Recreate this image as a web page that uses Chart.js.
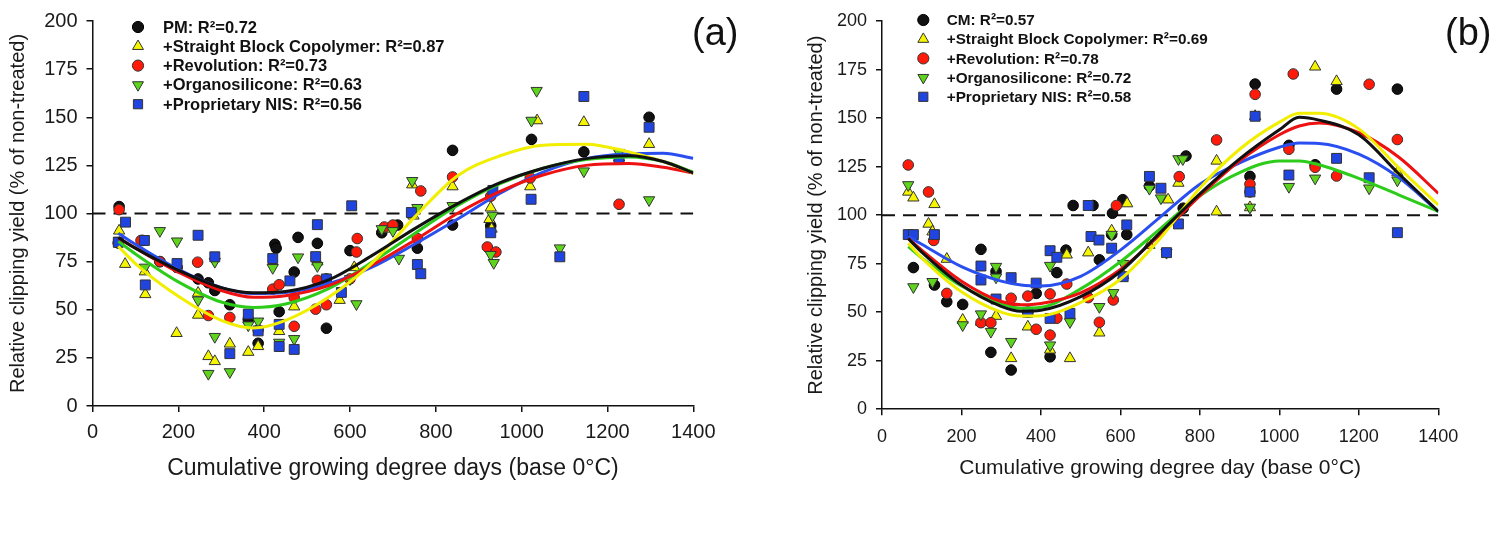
<!DOCTYPE html>
<html><head><meta charset="utf-8">
<script src="https://cdn.jsdelivr.net/npm/chart.js"></script>
<style>
html,body{margin:0;padding:0;background:#fff;}
#wrap{position:relative;width:1507px;height:533px;overflow:hidden;background:#fff;}
canvas{position:absolute;top:0;}
#ca{left:0;} #cb{left:760px;}
.panel{position:absolute;font-family:"Liberation Sans",Arial,sans-serif;font-size:38px;line-height:38px;color:#111;}
</style></head><body>
<div id="wrap">
<canvas id="ca" width="760" height="533"></canvas>
<canvas id="cb" width="747" height="533"></canvas>
<div class="panel" style="left:692px;top:13px">(a)</div>
<div class="panel" style="left:1445px;top:13px">(b)</div>
</div>
<script>
// ---------- tick labels ----------
const xTicks = [0, 200, 400, 600, 800, 1000, 1200, 1400];
const yTicks = [0, 25, 50, 75, 100, 125, 150, 175, 200];
const refY = 100;

// ---------- legend labels ----------
const aLabels = ['PM: R\u00B2=0.72', '+Straight Block Copolymer: R\u00B2=0.87', '+Revolution: R\u00B2=0.73', '+Organosilicone: R\u00B2=0.63', '+Proprietary NIS: R\u00B2=0.56'];
const bLabels = ['CM: R\u00B2=0.57', '+Straight Block Copolymer: R\u00B2=0.69', '+Revolution: R\u00B2=0.78', '+Organosilicone: R\u00B2=0.72', '+Proprietary NIS: R\u00B2=0.58'];

// ---------- panel (a) observations [GDD, % of non-treated] ----------
const aPM = [[62,103.6],[60,84.7],[117,86],[157,75],[197,72],[246,66],[270,64],[285,60],[320,52.6],[363,45],[386,32.6],[425,84],[428,82],[435,49],[470,69.6],[479,87.6],[524,84.5],[545,40.4],[545,66],[600,80.7],[674,90],[700,93],[711,94],[757,82],[839,132.8],[839,94],[928,93.6],[1023,138.5],[1145,132],[1297,150]];
const aSBC = [[62,91],[76,73.7],[122,69.8],[123,58],[196,37.8],[246,58.7],[246,47.3],[270,25.8],[285,23.2],[320,32.3],[363,28],[386,31],[435,38.8],[470,51.6],[524,75],[576,55],[610,72],[680,92],[745,115],[748,98.8],[839,114],[925,97],[930,92],[928,103],[1020,114],[1036,148.3],[1145,147.4],[1227,129],[1297,136]];
const aRev = [[62,102],[113,86],[157,75],[197,72],[245,74.7],[270,47],[320,46],[386,39.5],[420,60.7],[435,63],[470,56.3],[470,41.4],[520,50.3],[524,65.3],[545,52.6],[600,66],[615,80],[617,87],[680,93],[700,94],[757,87],[765,111.7],[839,119],[920,82.6],[928,109],[940,80],[1020,118.5],[1227,104.8]];
const aOrg = [[62,86],[122,72],[157,91],[197,85.6],[246,55],[270,16.8],[285,75],[285,36],[320,17.7],[363,42],[386,44],[420,71.8],[435,33],[470,34.9],[479,77.3],[524,72.8],[600,66],[615,53],[674,92],[700,91],[714,76.6],[745,117],[757,103],[839,104],[928,78.6],[932,99],[935,74.4],[1023,148.3],[1035,163.8],[1089,82],[1145,122],[1227,131.6],[1297,107]];
const aNIS = [[60,85],[77,95.5],[121,86],[123,62.9],[197,74],[246,88.7],[285,77.5],[320,27.2],[363,47.8],[386,39],[420,76.6],[435,42.4],[435,30.9],[460,65],[470,29.4],[520,77.6],[524,94.2],[545,66],[580,59],[604,104],[743,100.5],[757,73.5],[765,68.7],[928,90],[933,112],[1022,107.4],[1089,77.5],[1145,160.8],[1227,128],[1297,144.8]];

// ---------- panel (a) fitted curves ----------
const aFitX   = [60,100,200,300,375,450,550,650,750,850,950,1050,1150,1250,1330,1400];
const aFitPM  = [87.5,82,70.5,61.5,58.8,59.5,65.5,78,92,105,116,123.5,128.5,130,127,121];
const aFitSBC = [83,74,57,44.5,40.5,44.5,56.5,74,98,119.5,130,135.5,136,132,127,121];
const aFitRev = [87.3,82,69.5,60,56.5,57.3,62.5,73,86,100,111.5,120,125,126,124,121];
const aFitOrg = [85.6,79,64.5,54,51.2,53,61,74.5,89.5,104,115.5,123.5,128,129.4,127,121.5];
const aFitNIS = [89.8,84,71,61.5,58.4,59,63.5,72,84,97,110.5,121.5,128.5,131,131.3,128.7];

// ---------- panel (b) observations ----------
const bCM = [[79,73],[132,64],[163,55.4],[203,54],[249,82.4],[274,29.3],[287,71],[325,20.2],[367,50],[388,59.7],[423,27],[440,70.4],[463,82],[481,105],[531,105],[547,77],[578,90],[580,101],[606,108],[616,90],[673,115],[758,103.6],[765,130.5],[926,120],[939,167.6],[1024,136],[1090,126],[1144,165],[1297,165]];
const bSBC = [[66,112],[79,109],[117,95.5],[127,91.5],[132,105.6],[163,77.4],[203,46],[249,45],[287,48],[325,26.2],[367,42.5],[423,30.6],[465,79.6],[473,26.2],[519,80.7],[547,39.4],[578,92],[607,69],[617,106],[673,84.6],[720,108],[746,116.6],[842,101.8],[842,128],[926,104],[939,151],[1090,176.5],[1144,169],[1297,122]];
const bRev = [[66,125.9],[117,112],[130,87],[163,59.7],[249,44.6],[274,44.6],[325,57.2],[367,58.3],[388,41.2],[423,59.4],[423,38.2],[440,46.9],[465,64.5],[519,57.5],[547,44.8],[582,56.3],[590,105],[748,119.9],[842,138.8],[926,112],[926,116],[939,162.3],[1024,134],[1035,172.8],[1090,124.7],[1144,120.2],[1226,167.5],[1297,139]];
const bOrg = [[66,115.6],[79,63],[127,65.7],[203,43.4],[249,49],[274,40],[287,73.5],[287,68],[325,34.8],[423,33],[423,74],[473,45],[547,52.8],[578,90],[582,60],[607,75],[673,113.7],[702,108.8],[716,80.7],[746,129],[757,129],[926,104],[1024,114.7],[1090,119],[1226,113.9],[1297,118]];
const bNIS = [[66,90],[79,90],[132,90],[249,73.8],[249,66.6],[287,56.8],[325,67.8],[367,50],[388,65],[423,81.7],[423,46.8],[440,78.3],[473,49.4],[519,105],[526,89],[546,87.2],[578,83],[607,68.3],[616,95],[673,120],[702,113.9],[716,80.7],[746,95.5],[926,112],[939,151],[1024,120.7],[1144,129.3],[1226,119.3],[1297,91]];

// ---------- panel (b) fitted curves ----------
const bFitX   = [66,100,200,300,350,400,500,600,700,800,900,1000,1050,1100,1200,1300,1400];
const bFitCM  = [88,81,64,53,50.5,51,58,71,91,111,129,144,150.5,149,141.5,121.5,102];
const bFitSBC = [85.5,78,60.5,50,48,48.2,55,67,88,114,134,148,152.5,152.5,144.5,124.5,105.3];
const bFitRev = [88,82,66,55.5,53.8,54.5,60,72,90,110,128,141.5,146,147.5,142.5,130,111.3];
const bFitOrg = [83.8,78,63.5,54.5,52,52.5,62,76,93,110,122,128,128,126,119,110.5,102];
const bFitNIS = [89,85,73.5,66,64,63.5,68.5,82,99,116,127,135,137.2,137,131.5,119.5,101.8];

// ---------- styling ----------
const FONT = '"Liberation Sans", Arial, Helvetica, sans-serif';
const STY = [
  {fill:'#111111', border:'#000000', shape:'circle',   r:5.3, rot:0,   line:'#111111', lr:5.6},
  {fill:'#f5f500', border:'#333333', shape:'triangle', r:6.5, rot:0,   line:'#f2ee00', lr:6.3},
  {fill:'#ff1a0a', border:'#333333', shape:'circle',   r:5.3, rot:0,   line:'#ee1111', lr:5.6},
  {fill:'#5ed41c', border:'#333333', shape:'triangle', r:6.5, rot:180, line:'#2ecc1a', lr:6.3},
  {fill:'#1f44e0', border:'#333333', shape:'rect',     r:7,   rot:0,   line:'#2a4ff0', lr:6.5}
];
const DRAW_ORDER = [5, 4, 3, 2, 1]; // later series sit on top

function toPts(arr) { return arr.map(p => ({x: p[0], y: p[1]})); }
function toCurve(xs, ys) { return xs.map((x, i) => ({x: x, y: ys[i]})); }

function drawMarker(ctx, s, r, x, y) {
  ctx.beginPath();
  if (s.shape === 'circle') {
    ctx.arc(x, y, r, 0, Math.PI * 2);
  } else if (s.shape === 'triangle') {
    const d = s.rot ? -1 : 1;
    ctx.moveTo(x, y - d * r);
    ctx.lineTo(x + r * 0.866, y + d * r * 0.5);
    ctx.lineTo(x - r * 0.866, y + d * r * 0.5);
    ctx.closePath();
  } else {
    const h = r * Math.SQRT1_2;
    ctx.rect(x - h, y - h, 2 * h, 2 * h);
  }
  ctx.fill(); ctx.stroke();
}

const insetLegend = {
  id: 'insetLegend',
  afterDraw(chart, args, o) {
    if (!o || !o.labels) return;
    const ctx = chart.ctx, ca = chart.chartArea;
    ctx.save();
    ctx.font = 'bold ' + o.fontSize + 'px ' + FONT;
    ctx.textBaseline = 'middle';
    ctx.textAlign = 'left';
    o.labels.forEach((lab, i) => {
      const s = STY[i];
      const y = ca.top + o.dy + i * o.step;
      ctx.fillStyle = s.fill; ctx.strokeStyle = s.border; ctx.lineWidth = 1;
      drawMarker(ctx, s, s.lr, ca.left + o.dx, y);
      ctx.fillStyle = '#111';
      ctx.fillText(lab, ca.left + o.tx, y + 1);
    });
    ctx.restore();
  }
};

function buildChart(id, c) {
  const datasets = [];
  c.fits.forEach((ys, i) => {
    datasets.push({
      data: toCurve(c.fitX, ys), showLine: true, pointRadius: 0, pointHoverRadius: 0,
      borderColor: STY[i].line, borderWidth: 3, cubicInterpolationMode: 'monotone', fill: false, order: 0
    });
  });
  c.obs.forEach((arr, i) => {
    const s = STY[i];
    datasets.push({
      data: toPts(arr), showLine: false, pointStyle: s.shape, pointRotation: s.rot, pointRadius: s.r,
      pointBackgroundColor: s.fill, pointBorderColor: s.border, pointBorderWidth: 1, order: DRAW_ORDER[i]
    });
  });
  datasets.push({
    data: [{x: xTicks[0], y: refY}, {x: xTicks[xTicks.length - 1], y: refY}], showLine: true, pointRadius: 0,
    borderColor: '#111', borderWidth: 2, borderDash: [13, 8], fill: false, order: 10
  });

  return new Chart(document.getElementById(id), {
    type: 'scatter',
    data: {datasets: datasets},
    plugins: [insetLegend],
    options: {
      responsive: false, animation: false, devicePixelRatio: 1,
      events: [],
      layout: {padding: {left: 0, top: c.padTop, right: c.padRight, bottom: 0}},
      plugins: {
        legend: {display: false}, tooltip: {enabled: false},
        insetLegend: {labels: c.labels, fontSize: c.legFont, dx: c.legDx, tx: c.legTx, dy: c.legDy, step: c.legStep}
      },
      scales: {
        x: {
          type: 'linear', min: xTicks[0], max: xTicks[xTicks.length - 1],
          afterBuildTicks: s => { s.ticks = xTicks.map(v => ({value: v})); },
          afterFit: s => { s.height = c.xH; },
          ticks: {font: {family: FONT, size: c.tickFont}, color: '#1a1a1a', padding: c.xTickPad, maxRotation: 0, autoSkip: false, callback: v => String(v)},
          grid: {display: true, drawOnChartArea: false, drawTicks: true, tickLength: 6, color: '#111', lineWidth: 1.5},
          border: {display: true, color: '#111', width: 1.5},
          title: {display: true, text: c.xTitle, font: {family: FONT, size: c.xTitleFont}, color: '#1a1a1a', padding: {top: 0, bottom: c.xTitlePad}}
        },
        y: {
          type: 'linear', min: yTicks[0], max: yTicks[yTicks.length - 1],
          afterBuildTicks: s => { s.ticks = yTicks.map(v => ({value: v})); },
          afterFit: s => { s.width = c.yW; },
          ticks: {font: {family: FONT, size: c.tickFont}, color: '#1a1a1a', padding: 9, autoSkip: false, callback: v => String(v)},
          grid: {display: true, drawOnChartArea: false, drawTicks: true, tickLength: 6, color: '#111', lineWidth: 1.5},
          border: {display: true, color: '#111', width: 1.5},
          title: {display: true, text: 'Relative clipping yield (% of non-treated)', font: {family: FONT, size: c.yTitleFont}, color: '#1a1a1a', padding: {top: c.yTitlePad, bottom: 0}}
        }
      }
    }
  });
}

buildChart('ca', {
  fitX: aFitX, fits: [aFitPM, aFitSBC, aFitRev, aFitOrg, aFitNIS],
  obs: [aPM, aSBC, aRev, aOrg, aNIS], labels: aLabels,
  padTop: 18, padRight: 66.7, xH: 127, yW: 92.5,
  tickFont: 20, xTickPad: 8, xTitle: 'Cumulative growing degree days (base 0\u00B0C)', xTitleFont: 23, xTitlePad: 51,
  yTitleFont: 20, yTitlePad: 6,
  legFont: 16.5, legDx: 45.5, legTx: 70.5, legDy: 6, legStep: 19.3
});

buildChart('cb', {
  fitX: bFitX, fits: [bFitCM, bFitSBC, bFitRev, bFitOrg, bFitNIS],
  obs: [bCM, bSBC, bRev, bOrg, bNIS], labels: bLabels,
  padTop: 21.2, padRight: 68.7, xH: 123.8, yW: 122,
  tickFont: 18, xTickPad: 11, xTitle: 'Cumulative growing degree day (base 0\u00B0C)', xTitleFont: 21, xTitlePad: 52,
  yTitleFont: 20, yTitlePad: 44,
  legFont: 15.3, legDx: 41.3, legTx: 64.7, legDy: -1.2, legStep: 19.2
});
</script>
</body></html>
